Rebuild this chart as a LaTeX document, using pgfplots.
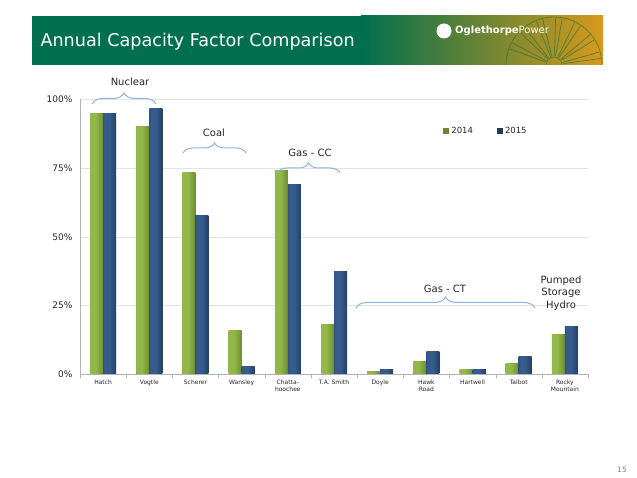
\documentclass[border=0pt]{standalone}
\usepackage{pgfplots}
\pgfplotsset{compat=1.18}
\usepackage{fontspec}
\setmainfont{DejaVu Sans}
\usetikzlibrary{decorations.pathreplacing}
\definecolor{bangreen}{HTML}{006F4E}
\definecolor{bangold}{HTML}{D69A1C}
\definecolor{gA}{HTML}{4E6A1E}
\definecolor{gB}{HTML}{93B84A}
\definecolor{bA}{HTML}{112440}
\definecolor{bB}{HTML}{365B8C}
\definecolor{bracec}{HTML}{8DB3E2}
\definecolor{txt}{HTML}{262626}
\pgfdeclarehorizontalshading{gbar}{100bp}{color(0bp)=(gA); color(25bp)=(gB); color(45bp)=(gB); color(100bp)=(gA)}
\pgfdeclarehorizontalshading{bbar}{100bp}{color(0bp)=(bA); color(30bp)=(bB); color(50bp)=(bB); color(100bp)=(bA)}
\newcommand\GB[2]{\addplot[forget plot, ybar, bar width=13pt, bar shift=-6.5pt, draw=none, fill=gA, shading=gbar] coordinates {(#1,#2)};}
\newcommand\BB[2]{\addplot[forget plot, ybar, bar width=13pt, bar shift=6.5pt, draw=none, fill=bA, shading=bbar] coordinates {(#1,#2)};}
\begin{document}
\begin{tikzpicture}
\begin{scope}[x=1pt,y=1pt]
\path[fill=white] (0,0) rectangle (637,478);
% banner
\fill[bangreen] (32,413) rectangle (362,462);
\shade[left color=bangreen, middle color={rgb,255:red,110;green,128;blue,90}, right color=bangold] (361,413) rectangle (603,462);
\begin{scope}
\clip (32,413) rectangle (603,462);
\begin{scope}[draw={rgb,255:red,40;green,110;blue,60}, opacity=0.6, line width=0.8pt]
\draw (506,413) arc (180:0:48);
\draw (546,413) arc (180:0:8);
\foreach \a in {12,36,60,84,108,132,156}{
  \draw (554,413) ++(\a-4:9) -- ++(\a-4:38);
  \draw (554,413) ++(\a+4:9) -- ++(\a+4:38);
}
\end{scope}
\end{scope}
\node[anchor=west, text=white, font=\fontsize{17.6}{20}\selectfont] at (37,436) {Annual Capacity Factor Comparison};
\fill[white] (444,447) circle (7.5);
\node[anchor=west, text=white, font=\fontsize{10}{12}\selectfont, inner sep=0pt] at (455,447) {\textbf{Oglethorpe}Power};
% page number
\node[text=gray, font=\fontsize{7.5}{9}\selectfont] at (622,8) {15};
\end{scope}
\begin{axis}[
  at={(80pt,104pt)}, anchor=south west,
  scale only axis, width=508pt, height=274.5pt,
  xmin=-0.5, xmax=10.5, ymin=0, ymax=100,
  axis x line*=bottom, axis y line*=left,
  axis line style={draw=gray!60, -},
  ymajorgrids, grid style={draw=gray!22},
  ytick={0,25,50,75,100},
  yticklabels={0\%,25\%,50\%,75\%,100\%},
  yticklabel style={font=\fontsize{9}{10}\selectfont, text=txt, xshift=-4pt},
  ytick style={draw=none},
  xtick={0,...,10},
  xticklabels={Hatch,Vogtle,Scherer,Wansley,{Chatta-\\hoochee},T.A. Smith,Doyle,{Hawk\\Road},Hartwell,Talbot,{Rocky\\Mountain}},
  xticklabel style={font=\fontsize{6}{7}\selectfont, align=center, text=txt, yshift=-2pt},
  xtick style={draw=none},
  extra x ticks={-0.5,0.5,...,10.5},
  extra x tick labels={},
  extra x tick style={xtick style={draw=gray!60}, major tick length=4pt, tick align=outside, grid=none},
  legend style={draw=none, fill=none, at={(0.709,0.885)}, anchor=west, legend columns=2,
    font=\fontsize{8.5}{10}\selectfont, text=txt,
    /tikz/every even column/.append style={column sep=22pt}},
  legend image code/.code={\fill[#1, draw=none] (0pt,-3pt) rectangle (6pt,3pt);},
]
% 2014
\GB{0}{95.0}\GB{1}{90.3}\GB{2}{73.3}\GB{3}{15.8}\GB{4}{74.0}\GB{5}{18.2}
\GB{6}{0.8}\GB{7}{4.5}\GB{8}{1.5}\GB{9}{3.9}\GB{10}{14.4}
% 2015
\BB{0}{94.8}\BB{1}{96.6}\BB{2}{57.9}\BB{3}{2.7}\BB{4}{68.9}\BB{5}{37.4}
\BB{6}{1.5}\BB{7}{8.1}\BB{8}{1.7}\BB{9}{6.3}\BB{10}{17.2}
\addlegendimage{fill=gA!60!gB, draw=none}
\addlegendimage{fill=bA!60!bB, draw=none}
\legend{2014,2015}
\end{axis}
% braces and group labels
\begin{scope}[x=1pt,y=1pt]
\begin{scope}[bracec, line width=1pt]
\draw[decorate, decoration={brace, amplitude=11pt}] (92,374) -- (156,374);
\draw[decorate, decoration={brace, amplitude=10pt}] (183,325) -- (246,325);
\draw[decorate, decoration={brace, amplitude=10pt}] (277,305) -- (340,305);
\draw[decorate, decoration={brace, amplitude=11pt}] (356,170) -- (535,170);
\end{scope}
\begin{scope}[every node/.style={text=txt, font=\fontsize{10}{12.7}\selectfont}]
\node at (130,396) {Nuclear};
\node at (214,345) {Coal};
\node at (310,325) {Gas - CC};
\node at (445,189) {Gas - CT};
\node[align=center] at (561,185) {Pumped\\Storage\\Hydro};
\end{scope}
\end{scope}
\end{tikzpicture}
\end{document}
